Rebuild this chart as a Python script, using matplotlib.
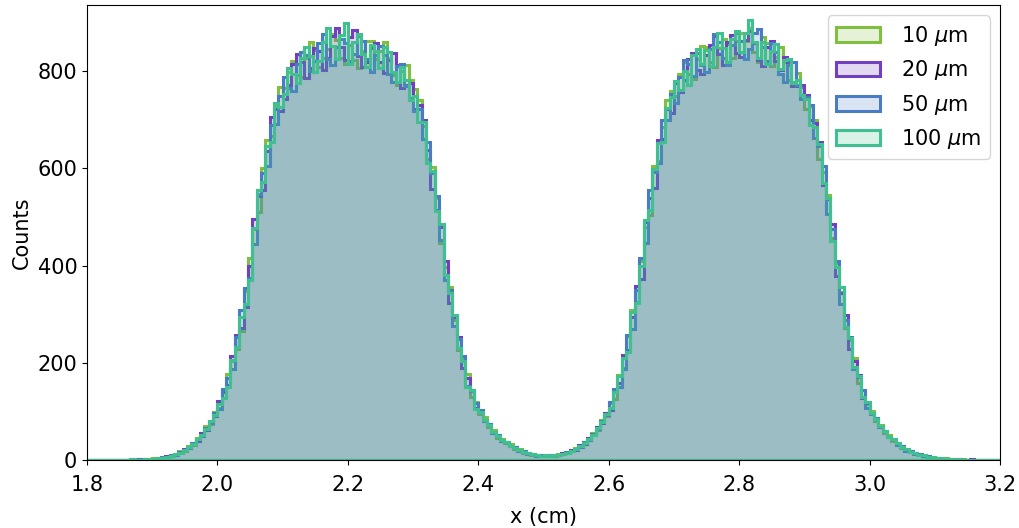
import numpy as np
import matplotlib
matplotlib.use("Agg")
import matplotlib.pyplot as plt
from matplotlib.colors import to_rgba

# Histogram binning: 210 bins between 1.8 and 3.2 cm
x_min, x_max, n_bins = 1.8, 3.2, 210

labels = [r"10 $\mu$m", r"20 $\mu$m", r"50 $\mu$m", r"100 $\mu$m"]
colors = ["#80bf40", "#7040c0", "#4a7cc4", "#40c090"]

counts_10um = [
    0, 0, 0, 0, 0, 1, 0, 0, 1, 0, 1, 2, 1, 3, 2,
    4, 3, 6, 6, 10, 11, 18, 19, 28, 31, 45, 50, 69, 75, 99,
    106, 143, 177, 203, 228, 266, 347, 415, 475, 510, 600, 658, 667, 728, 768,
    765, 799, 820, 792, 788, 827, 860, 843, 808, 827, 845, 876, 864, 827, 815,
    853, 822, 807, 842, 862, 863, 824, 842, 859, 826, 793, 772, 800, 812, 782,
    763, 740, 687, 620, 602, 540, 447, 398, 355, 289, 226, 208, 177, 129, 120,
    95, 88, 67, 61, 46, 44, 34, 32, 23, 22, 15, 15, 11, 11, 8,
    9, 11, 9, 12, 12, 16, 18, 24, 26, 37, 41, 55, 62, 83, 90,
    117, 125, 175, 190, 256, 309, 325, 410, 480, 505, 605, 615, 685, 740, 760,
    748, 795, 818, 795, 783, 825, 852, 850, 818, 809, 848, 867, 856, 826, 863,
    879, 862, 889, 839, 818, 870, 858, 811, 830, 849, 818, 782, 778, 797, 768,
    723, 728, 700, 620, 592, 545, 457, 405, 345, 272, 246, 210, 158, 145, 116,
    101, 81, 73, 55, 51, 40, 35, 25, 22, 16, 15, 10, 9, 8, 5,
    5, 4, 4, 2, 3, 1, 2, 1, 0, 1, 1, 0, 1, 0, 0,
]

counts_20um = [
    0, 0, 0, 0, 1, 0, 0, 0, 1, 1, 0, 2, 1, 2, 3,
    2, 5, 4, 8, 8, 13, 15, 22, 25, 35, 40, 55, 61, 80, 91,
    122, 139, 155, 213, 258, 272, 315, 400, 495, 543, 555, 635, 705, 722, 718,
    742, 772, 815, 835, 818, 785, 807, 848, 841, 802, 828, 872, 889, 850, 823,
    870, 884, 832, 808, 819, 848, 857, 819, 797, 822, 838, 812, 765, 772, 775,
    723, 730, 700, 638, 558, 515, 480, 410, 323, 294, 252, 190, 168, 144, 107,
    101, 80, 73, 55, 51, 39, 38, 28, 26, 19, 18, 13, 13, 9, 10,
    11, 9, 11, 10, 14, 14, 20, 21, 30, 33, 45, 51, 67, 76, 97,
    102, 143, 158, 216, 226, 294, 357, 372, 490, 540, 560, 658, 660, 722, 713,
    775, 757, 782, 825, 838, 803, 794, 833, 853, 872, 835, 812, 859, 874, 838,
    829, 865, 882, 857, 823, 810, 850, 861, 820, 802, 830, 818, 770, 769, 772,
    750, 700, 693, 655, 565, 537, 485, 378, 343, 299, 228, 203, 175, 127, 118,
    95, 87, 68, 60, 47, 44, 32, 29, 20, 18, 13, 12, 8, 8, 7,
    4, 5, 3, 3, 2, 2, 1, 0, 2, 1, 0, 1, 0, 0, 0,
]

counts_50um = [
    0, 0, 1, 0, 0, 0, 1, 0, 0, 1, 1, 1, 2, 3, 2,
    3, 4, 6, 7, 10, 11, 17, 21, 24, 34, 43, 50, 66, 77, 96,
    104, 147, 168, 188, 253, 309, 353, 375, 445, 547, 590, 605, 690, 692, 748,
    788, 765, 760, 815, 840, 833, 800, 820, 858, 877, 825, 812, 849, 867, 857,
    820, 836, 872, 862, 825, 798, 834, 852, 834, 794, 778, 810, 815, 769, 745,
    718, 722, 660, 655, 590, 543, 453, 370, 350, 276, 248, 213, 153, 142, 118,
    102, 81, 74, 55, 52, 40, 38, 28, 26, 19, 18, 12, 13, 9, 10,
    10, 10, 11, 11, 12, 16, 18, 23, 27, 36, 42, 54, 64, 80, 93,
    120, 147, 151, 188, 258, 269, 350, 415, 447, 555, 592, 610, 700, 700, 753,
    735, 787, 822, 815, 790, 837, 812, 798, 845, 877, 860, 827, 812, 854, 878,
    861, 825, 845, 879, 886, 850, 820, 858, 840, 795, 778, 812, 818, 772, 742,
    746, 730, 663, 645, 605, 507, 475, 410, 320, 289, 253, 188, 171, 145, 106,
    95, 87, 68, 60, 47, 44, 31, 29, 19, 18, 13, 12, 8, 8, 5,
    5, 3, 3, 3, 2, 2, 1, 1, 1, 1, 0, 1, 0, 0, 0,
]

counts_100um = [
    0, 1, 0, 0, 0, 0, 0, 1, 0, 1, 2, 1, 1, 2, 3,
    3, 4, 5, 6, 9, 13, 15, 21, 27, 32, 44, 51, 63, 80, 92,
    115, 127, 151, 206, 233, 294, 320, 370, 477, 555, 572, 645, 655, 735, 726,
    752, 807, 795, 775, 826, 850, 832, 798, 821, 859, 888, 852, 824, 875, 898,
    815, 859, 877, 835, 809, 853, 841, 806, 849, 839, 798, 778, 808, 782, 740,
    748, 695, 695, 610, 595, 513, 485, 380, 343, 299, 230, 203, 151, 145, 104,
    99, 83, 71, 57, 50, 41, 37, 29, 24, 21, 16, 14, 12, 10, 9,
    10, 9, 10, 11, 13, 14, 19, 22, 29, 34, 44, 52, 66, 78, 95,
    107, 140, 173, 210, 223, 304, 323, 400, 493, 515, 598, 652, 655, 725, 746,
    780, 762, 800, 772, 833, 845, 814, 843, 811, 849, 878, 847, 819, 866, 883,
    839, 878, 905, 859, 828, 860, 815, 841, 855, 805, 823, 825, 775, 782, 750,
    743, 690, 685, 650, 570, 540, 450, 398, 355, 274, 250, 192, 173, 130, 120,
    97, 85, 70, 59, 48, 43, 34, 27, 22, 17, 14, 11, 10, 7, 6,
    5, 4, 3, 3, 2, 2, 1, 1, 1, 1, 1, 0, 0, 0, 0,
]

all_counts = [counts_10um, counts_20um, counts_50um, counts_100um]

x_ticks = [1.8, 2.0, 2.2, 2.4, 2.6, 2.8, 3.0, 3.2]
y_ticks = [0, 200, 400, 600, 800]

edges = np.linspace(x_min, x_max, n_bins + 1)
centers = 0.5 * (edges[:-1] + edges[1:])

fig = plt.figure(figsize=(10.19, 5.28), dpi=100)
ax = fig.add_axes([0.0854, 0.1288, 0.896, 0.8617])

for counts, color, label in zip(all_counts, colors, labels):
    ax.hist(centers, bins=edges, weights=np.asarray(counts, dtype=float),
            histtype="stepfilled", facecolor=to_rgba(color, 0.2),
            edgecolor=color, linewidth=2.2, label=label)

ax.set_xlim(x_min, x_max)
ax.set_ylim(0, 936)
ax.set_xticks(x_ticks)
ax.set_xticklabels([f"{t:.1f}" for t in x_ticks])
ax.set_yticks(y_ticks)
ax.tick_params(labelsize=15)
ax.tick_params(axis="x", pad=7)
ax.set_xlabel("x (cm)", fontsize=15, labelpad=9)
ax.set_ylabel("Counts", fontsize=15)
ax.legend(loc="upper right", fontsize=15, handlelength=2.1, handletextpad=1.0)

fig.savefig("out.png", dpi=100)
